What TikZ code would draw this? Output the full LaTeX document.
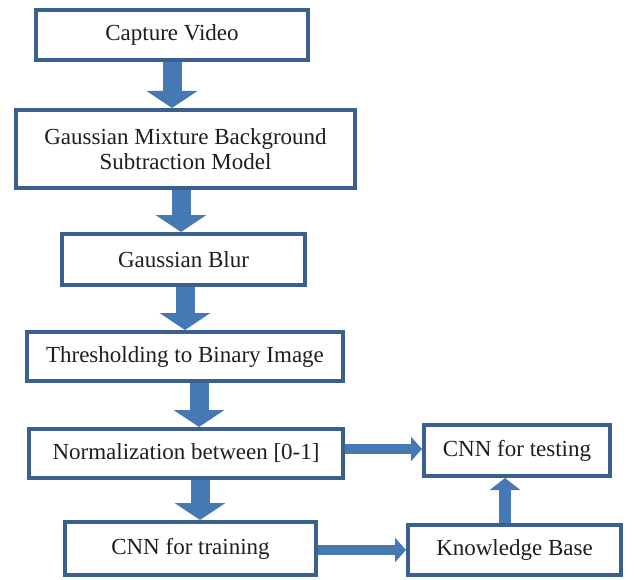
\documentclass[tikz,border=0pt]{standalone}
\usepackage{fontspec}
\setmainfont{Liberation Serif}
\usepackage{xcolor}
\usepackage{tikz}
\usetikzlibrary{arrows.meta, positioning}
\definecolor{boxblue}{RGB}{58,96,142}
\definecolor{arrowblue}{RGB}{70,120,180}
\definecolor{textgray}{RGB}{30,30,30}
\tikzset{
    stagenode/.style = {draw=boxblue, rectangle, line width=4pt, fill=white, inner sep=0pt,
      text=textgray, font=\fontsize{23}{25}\selectfont, align=center},
    downarrow/.style = {draw=arrowblue, line width=19pt, -{Triangle[length=17pt, width=50pt]}},
    sidearrow/.style = {draw=arrowblue, line width=10pt, -{Triangle[length=11pt, width=24pt]}},
    uparrow/.style = {draw=arrowblue, line width=12pt, -{Triangle[length=12pt, width=30pt]}}
}

\begin{document}
\begin{tikzpicture}
\useasboundingbox (0,0) rectangle (634pt,-580pt);

% main column
\node [stagenode, name=cap, minimum width=272pt, minimum height=50pt] at (172pt,-35pt) {Capture Video};
\node [stagenode, name=gmm, below=46pt of cap, xshift=13.5pt, minimum width=339pt, minimum height=78pt]
  {Gaussian Mixture Background\\Subtraction Model};
\node [stagenode, name=blur, below=42pt of gmm, xshift=-2pt, minimum width=243pt, minimum height=51pt] {Gaussian Blur};
\node [stagenode, name=thr, below=43pt of blur, xshift=1.5pt, minimum width=316pt, minimum height=49pt] {Thresholding to Binary Image};
\node [stagenode, name=norm, below=44pt of thr, xshift=1pt, minimum width=314pt, minimum height=49pt] {Normalization between [0-1]};
\node [stagenode, name=train, below=40pt of norm, xshift=4.5pt, minimum width=251pt, minimum height=53pt] {CNN for training};

% right side
\node [stagenode, name=test, right=77pt of norm, yshift=3pt, minimum width=186pt, minimum height=51pt] {CNN for testing};
\node [stagenode, name=kb, right=88pt of train, yshift=-1.5pt, minimum width=213pt, minimum height=50pt] {Knowledge Base};

\draw [downarrow] (cap.south) -- (cap.south |- gmm.north);
\draw [downarrow] ([xshift=-4.5pt]gmm.south) -- ([xshift=-4.5pt]gmm.south |- blur.north);
\draw [downarrow] ([xshift=1.5pt]blur.south) -- ([xshift=1.5pt]blur.south |- thr.north);
\draw [downarrow] ([xshift=14pt]thr.south) -- ([xshift=14pt]thr.south |- norm.north);
\draw [downarrow] ([xshift=14pt]norm.south) -- ([xshift=14pt]norm.south |- train.north);

\draw [sidearrow] ([yshift=4.5pt]norm.east) -- ([yshift=4.5pt]norm.east -| test.west);
\draw [sidearrow] ([yshift=-1.5pt]train.east) -- ([yshift=-1.5pt]train.east -| kb.west);
\draw [uparrow] ([xshift=-9.5pt]kb.north) -- ([xshift=-9.5pt]kb.north |- test.south);

\end{tikzpicture}
\end{document}
